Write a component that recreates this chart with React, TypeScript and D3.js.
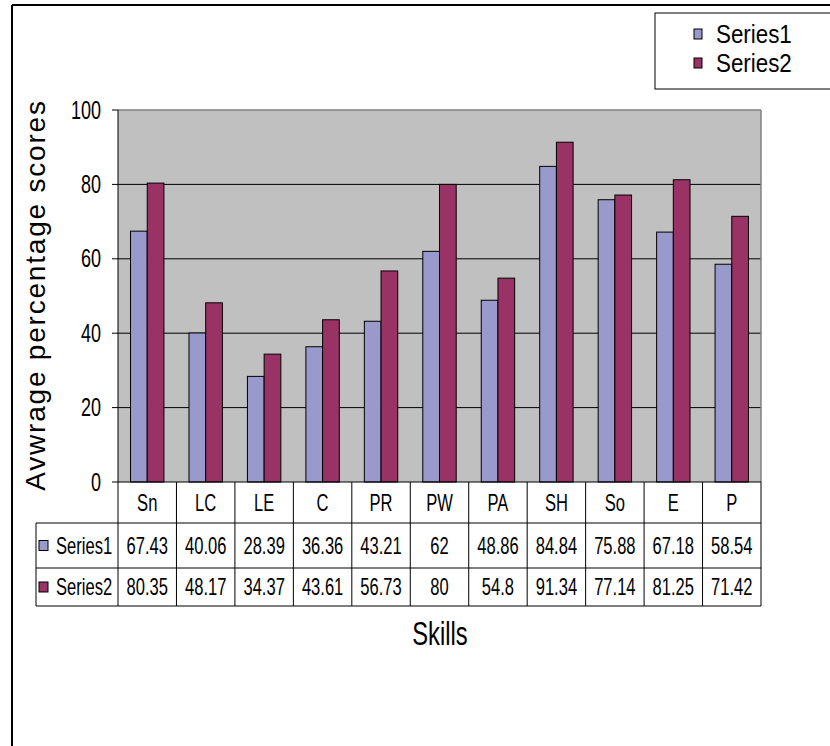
import React from "react";
import * as d3 from "d3";

const categories = ["Sn", "LC", "LE", "C", "PR", "PW", "PA", "SH", "So", "E", "P"];
const series1 = [67.43, 40.06, 28.39, 36.36, 43.21, 62, 48.86, 84.84, 75.88, 67.18, 58.54];
const series2 = [80.35, 48.17, 34.37, 43.61, 56.73, 80, 54.8, 91.34, 77.14, 81.25, 71.42];
const seriesNames = ["Series1", "Series2"];
const seriesColors = ["#9999CC", "#993366"];
const yTicks = [0, 20, 40, 60, 80, 100];

const FONT = "'Liberation Sans', Arial, sans-serif";
const SX = 0.72;

function T({ x, y, size, anchor = "middle", sx = SX, children }: any) {
  return (
    <text
      transform={`translate(${x},${y}) scale(${sx},1)`}
      fontSize={size}
      fontFamily={FONT}
      textAnchor={anchor}
      dominantBaseline="central"
      fill="#000"
    >
      {children}
    </text>
  );
}

export default function App() {
  const W = 830, H = 746;
  const left = 118, right = 761, top = 110, bottom = 482;
  const x = d3.scaleBand<string>().domain(categories).range([left, right]).padding(0);
  const y = d3.scaleLinear().domain([0, 100]).range([bottom, top]);
  const bw = x.bandwidth();
  const barW = bw / 3.5;
  const offset = (bw - 2 * barW) / 2;
  const allSeries = [series1, series2];

  const rowTops = [bottom, 523, 568, 606];
  const tableLeft = 36;
  const rowCenters = [(rowTops[0] + rowTops[1]) / 2, (rowTops[1] + rowTops[2]) / 2, (rowTops[2] + rowTops[3]) / 2];

  return (
    <svg width={W} height={H} style={{ position: "absolute", left: 0, top: 0, background: "#fff" }}>
      {/* outer frame */}
      <line x1={12} y1={5} x2={W} y2={5} stroke="#000" strokeWidth={2} />
      <line x1={12} y1={5} x2={12} y2={H} stroke="#000" strokeWidth={2} />

      {/* plot area */}
      <rect x={left} y={top} width={right - left} height={bottom - top} fill="#C0C0C0" />
      {yTicks.filter((t) => t > 0 && t < 100).map((t) => (
        <line key={t} x1={left} x2={right} y1={y(t)} y2={y(t)} stroke="#000" strokeWidth={1} />
      ))}
      <line x1={left} x2={right} y1={y(100)} y2={y(100)} stroke="#808080" strokeWidth={1.5} />
      <line x1={right} x2={right} y1={top} y2={bottom} stroke="#808080" strokeWidth={1.5} />

      {/* bars */}
      {allSeries.map((s, si) =>
        s.map((v, i) => (
          <rect
            key={`${si}-${i}`}
            x={(x(categories[i]) as number) + offset + si * barW}
            y={y(v)}
            width={barW}
            height={y(0) - y(v)}
            fill={seriesColors[si]}
            stroke="#000"
            strokeWidth={1}
          />
        ))
      )}

      {/* y axis */}
      <line x1={left} x2={left} y1={top} y2={rowTops[3]} stroke="#000" strokeWidth={1} />
      {yTicks.map((t) => (
        <g key={t}>
          <line x1={left - 6} x2={left} y1={y(t)} y2={y(t)} stroke="#000" strokeWidth={1} />
          <T x={101} y={y(t)} size={25} anchor="end">{t}</T>
        </g>
      ))}

      {/* data table */}
      <line x1={left} x2={right} y1={bottom} y2={bottom} stroke="#000" strokeWidth={1} />
      {rowTops.slice(1).map((ry) => (
        <line key={ry} x1={tableLeft} x2={right} y1={ry} y2={ry} stroke="#000" strokeWidth={1} />
      ))}
      <line x1={tableLeft} x2={tableLeft} y1={rowTops[1]} y2={rowTops[3]} stroke="#000" strokeWidth={1} />
      {categories.map((c) => (
        <line key={c} x1={(x(c) as number) + bw} x2={(x(c) as number) + bw} y1={bottom} y2={rowTops[3]} stroke="#000" strokeWidth={1} />
      ))}
      {categories.map((c, i) => (
        <g key={c}>
          <T x={(x(c) as number) + bw / 2} y={rowCenters[0]} size={23}>{c}</T>
          {allSeries.map((s, si) => (
            <T key={si} x={(x(c) as number) + bw / 2} y={rowCenters[si + 1]} size={23}>{String(s[i])}</T>
          ))}
        </g>
      ))}
      {seriesNames.map((n, si) => (
        <g key={n}>
          <rect x={39} y={rowCenters[si + 1] - 5} width={9} height={10} fill={seriesColors[si]} stroke="#000" strokeWidth={1} />
          <T x={56} y={rowCenters[si + 1]} size={23} anchor="start">{n}</T>
        </g>
      ))}

      {/* axis titles */}
      <T x={440} y={634} size={33}>Skills</T>
      <text
        transform={`translate(45,295) rotate(-90)`}
        fontSize={28}
        fontFamily={FONT}
        textAnchor="middle"
        letterSpacing={1.8}
        fill="#000"
      >
        Avwrage percentage scores
      </text>

      {/* legend */}
      <rect x={655} y={13} width={200} height={76} fill="#fff" stroke="#000" strokeWidth={1} />
      {seriesNames.map((n, si) => (
        <g key={n}>
          <rect x={694} y={29 + si * 29} width={8} height={10} fill={seriesColors[si]} stroke="#000" strokeWidth={1} />
          <T x={716} y={34 + si * 29} size={26} anchor="start" sx={0.86}>{n}</T>
        </g>
      ))}
    </svg>
  );
}
